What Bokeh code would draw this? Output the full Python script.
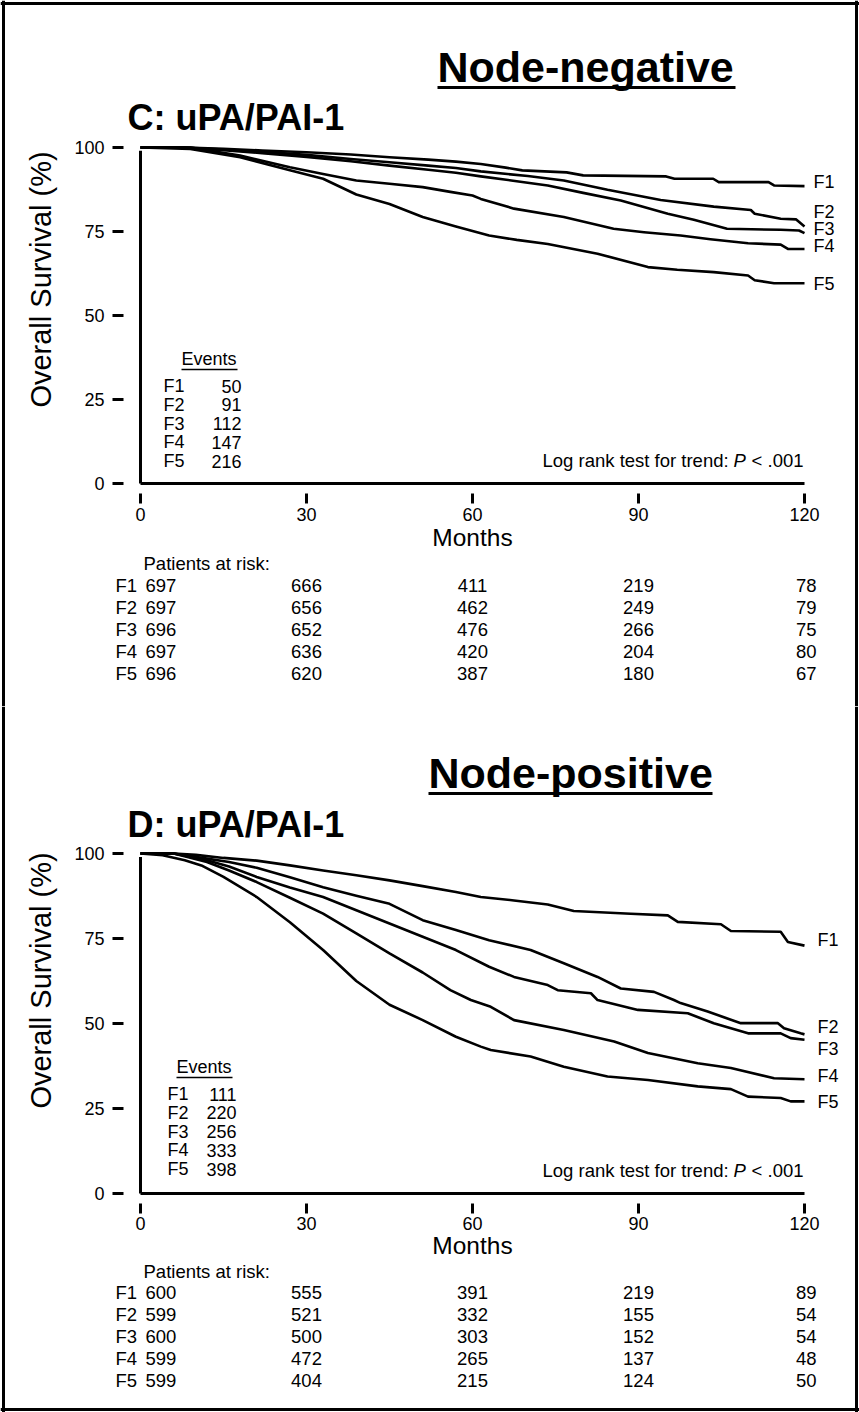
import math
from bokeh.plotting import figure
from bokeh.models import Range1d
from bokeh.layouts import column
from bokeh.embed import file_html
from bokeh.resources import INLINE
from bokeh.core.properties import value

FONT = "Liberation Sans"

# ---------------- data ----------------
month_ticks = [0, 30, 60, 90, 120]
surv_ticks = [0, 25, 50, 75, 100]
groups = ["F1", "F2", "F3", "F4", "F5"]

# Panel C: node-negative
C_F1_t = [0, 8, 15, 22, 30, 38, 45, 52, 57, 61.5, 66, 69, 77, 80, 95, 96.5, 103.5, 104.5, 113.5, 114.5, 120]
C_F1_s = [100, 100, 99.6, 99.1, 98.6, 97.9, 97.1, 96.4, 95.8, 95.1, 94, 93.2, 92.6, 91.7, 91.4, 90.7, 90.7, 89.7, 89.7, 88.7, 88.5]
C_F2_t = [0, 8, 15, 22, 30, 38, 45, 52, 57, 61.5, 70, 76.5, 84.4, 94, 103.6, 110.3, 111, 115.7, 118.5, 120]
C_F2_s = [100, 100, 99.4, 98.7, 97.8, 96.6, 95.6, 94.6, 93.9, 92.9, 91.5, 90.2, 87.4, 84.4, 82.4, 81.4, 80.3, 78.8, 78.6, 76.5]
C_F3_t = [0, 8, 15, 22, 30, 38, 45, 52, 57, 61.5, 67, 73.6, 80, 86.8, 95.3, 100, 106, 115.7, 119, 120]
C_F3_s = [100, 100, 99.2, 98.3, 97.2, 95.9, 94.6, 93.4, 92.5, 91.4, 90.2, 88.7, 86.5, 84.2, 80.3, 78.5, 75.8, 75.5, 75.3, 74.5]
C_F4_t = [0, 9, 18, 27, 33, 39, 45, 51, 56, 60, 61.5, 67.5, 76.5, 85.5, 91, 97.6, 103, 109.8, 115.7, 117, 120]
C_F4_s = [100, 100, 97.6, 94.1, 92.1, 90.2, 89.2, 88.2, 86.8, 85.7, 84.7, 81.8, 79.3, 75.8, 74.8, 73.8, 72.7, 71.5, 71.1, 69.8, 69.8]
C_F5_t = [0, 9, 18, 27, 33, 39, 45, 51, 57, 63, 68, 73.6, 82.6, 91.7, 97, 103.6, 109.8, 111, 114.5, 120]
C_F5_s = [100, 99.6, 97.1, 93.2, 90.7, 86, 83.2, 79.3, 76.5, 73.8, 72.5, 71.3, 68.4, 64.4, 63.6, 62.9, 61.9, 60.5, 59.6, 59.6]
C_events = [50, 91, 112, 147, 216]
C_risk_F1 = [697, 666, 411, 219, 78]
C_risk_F2 = [697, 656, 462, 249, 79]
C_risk_F3 = [696, 652, 476, 266, 75]
C_risk_F4 = [697, 636, 420, 204, 80]
C_risk_F5 = [696, 620, 387, 180, 67]

# Panel D: node-positive
D_F1_t = [0, 6, 10, 15, 21, 27, 33, 39, 45, 51, 57, 61.5, 67.5, 73.6, 78.3, 88.6, 95.3, 97.1, 104.9, 106.7, 115.7, 117, 120]
D_F1_s = [100, 100, 99.6, 98.7, 97.9, 96.5, 95, 93.6, 92.1, 90.4, 88.7, 87.2, 86.2, 85, 83.1, 82.3, 81.8, 79.9, 79.2, 77.2, 77, 74, 72.9]
D_F2_t = [0, 6, 12, 16, 21, 27, 33, 39, 45, 51, 57, 63, 70.5, 76.5, 82.6, 86.8, 92.8, 96.4, 97.6, 102.5, 108.5, 115.2, 116.3, 119.3, 120]
D_F2_s = [100, 100, 98.5, 97.5, 95.8, 93, 90.1, 87.6, 85.2, 80.4, 77.5, 74.5, 71.6, 67.7, 63.7, 60.3, 59.3, 56.9, 56, 53.5, 50.1, 50.1, 48.6, 47.1, 46.8]
D_F3_t = [0, 6, 12, 16, 21, 27, 33, 39, 45, 51, 57, 63, 67.5, 73.6, 75.4, 81.4, 82.6, 89.9, 98.9, 103.6, 109.8, 115.7, 117.5, 120]
D_F3_s = [100, 100, 98, 96.2, 93.1, 90, 87.2, 83.3, 79.4, 75.5, 71.6, 66.7, 63.7, 61.3, 59.8, 58.9, 56.9, 54, 53, 50.1, 47.1, 47.1, 45.7, 45.2]
D_F4_t = [0, 6, 12, 16, 21, 27, 33, 39, 45, 51, 56, 59.7, 63.3, 67.5, 76.5, 85.6, 91.7, 100.7, 106.7, 114.5, 120]
D_F4_s = [100, 100, 97.5, 95, 91.6, 87, 82.3, 76.5, 70.6, 65, 59.8, 56.9, 54.9, 51, 48.1, 44.7, 41.3, 38.3, 36.9, 33.9, 33.6]
D_F5_t = [0, 4, 8, 11, 15, 21, 27, 33, 39, 45, 51, 57, 61.5, 63.3, 70.5, 76.5, 84.4, 91.7, 100.7, 106.7, 109.8, 115.7, 117.5, 120]
D_F5_s = [100, 99.5, 98, 96.5, 93.1, 87.2, 79.8, 71.6, 62.5, 55.5, 51, 46.1, 43.2, 42.2, 40.3, 37.3, 34.4, 33.4, 31.5, 30.7, 28.5, 28.1, 27.1, 27.1]
D_events = [111, 220, 256, 333, 398]
D_risk_F1 = [600, 555, 391, 219, 89]
D_risk_F2 = [599, 521, 332, 155, 54]
D_risk_F3 = [600, 500, 303, 152, 54]
D_risk_F4 = [599, 472, 265, 137, 48]
D_risk_F5 = [599, 404, 215, 124, 50]

# ---------------- layout (pixels inside each 859x706 panel) ----------------
W, H = 859, 706
PX0, PX120 = 140, 804
CAP = 0.36  # half cap height (em) : baseline -> visual centre of capitals


def make_panel(cfg, curves, events, risks, top_part):
    KX = (PX120 - PX0) / (month_ticks[-1] - month_ticks[0])
    Y0, Y100 = cfg["y0"], cfg["y100"]
    KY = (Y0 - Y100) / (surv_ticks[-1] - surv_ticks[0])
    mx = lambda px: (px - PX0) / KX
    vy = lambda py: (Y0 - py) / KY
    vb = lambda py, size: vy(py - CAP * size)  # alphabetic baseline (px) -> data y of text centre

    p = figure(width=W, height=H, output_backend="svg", toolbar_location=None,
               x_range=Range1d(mx(0), mx(W)), y_range=Range1d(vy(H), vy(0)),
               x_axis_type=None, y_axis_type=None,
               min_border_left=0, min_border_right=0, min_border_top=0, min_border_bottom=0)
    p.grid.visible = False
    p.outline_line_color = None
    p.background_fill_color = "white"
    p.border_fill_color = "white"

    def txt(x, y, s, size, style="normal", align="left", angle=0.0):
        p.text(x=x, y=y, text=s, text_font=value(FONT), text_font_size=f"{size}px",
               text_font_style=style, text_align=align, text_baseline="middle",
               angle=angle, text_color="black")

    # ---- axes (ticks detached from the axis lines, as in the original) ----
    p.line([month_ticks[0], month_ticks[-1]], [surv_ticks[0], surv_ticks[0]], line_width=3, line_color="black")
    p.line([month_ticks[0], month_ticks[0]], [surv_ticks[0], surv_ticks[-1] - 1], line_width=3, line_color="black")
    t0, t1 = cfg["xtick"]
    p.segment(x0=month_ticks, x1=month_ticks, y0=[vy(Y0 + t0)] * 5, y1=[vy(Y0 + t1)] * 5,
              line_width=3, line_color="black")
    txt(month_ticks, [vy(Y0 + cfg["xlab_c"])] * 5, [str(m) for m in month_ticks], 18, align="center")
    p.segment(x0=[mx(112)] * 5, x1=[mx(123)] * 5, y0=surv_ticks, y1=surv_ticks,
              line_width=3, line_color="black")
    txt([mx(104)] * 5, surv_ticks, [str(s) for s in surv_ticks], 18, align="right")

    # ---- survival curves ----
    for t, s in curves:
        p.line(t, s, line_width=2.6, line_color="black", line_join="round")

    # ---- titles ----
    tb = cfg["title_base"]
    txt([mx(cfg["title_x"])], [vb(tb, 43)], [cfg["title"]], 43, "bold")
    p.segment(x0=[mx(cfg["title_x"])], x1=[mx(cfg["title_x2"])],
              y0=[vy(tb + 5)], y1=[vy(tb + 5)], line_width=3, line_color="black")
    txt([mx(127)], [vb(cfg["sub_base"], 36)], [cfg["sub"]], 36, "bold")

    # ---- y axis title ----
    txt([mx(40)], [vy(cfg["ylab_y"])], ["Overall Survival (%)"], 29, align="center", angle=math.pi / 2)

    # ---- right-hand group labels ----
    txt([mx(cfg["flab_x"])] * 5, cfg["flab_y"], groups, 18)

    # ---- events table ----
    eb = cfg["ev_base"]
    txt([mx(cfg["ev_x"])], [vb(eb, 18)], ["Events"], 18)
    p.segment(x0=[mx(cfg["ev_x"])], x1=[mx(cfg["ev_x"] + 56)], y0=[vy(eb + 4)], y1=[vy(eb + 4)],
              line_width=1.5, line_color="black")
    rows_y = [vb(eb + 27 + 18.8 * i, 18) for i in range(5)]
    txt([mx(cfg["evF_x"])] * 5, rows_y, groups, 18)
    txt([mx(cfg["evN_x"])] * 5, rows_y, [str(e) for e in events], 18, align="right")

    # ---- log rank ----
    lr = Y0 - 16
    txt([mx(542)], [vb(lr, 18.5)], ["Log rank test for trend:"], 18.5)
    txt([mx(733)], [vb(lr, 18.5)], ["P"], 18.5, style="italic")
    txt([mx(803)], [vb(lr, 18.5)], ["< .001"], 18.5, align="right")

    # ---- x axis title ----
    txt([month_ticks[2]], [vy(Y0 + cfg["months_c"])], ["Months"], 24.5, align="center")

    # ---- patients at risk ----
    txt([mx(143)], [vy(Y0 + cfg["pat_c"])], ["Patients at risk:"], 18.5)
    row_y = [vy(Y0 + cfg["row0_c"] + cfg["row_dy"] * i) for i in range(5)]
    txt([mx(115)] * 5, row_y, groups, 18.5)
    for j, m in enumerate(month_ticks):
        if j == 0:
            xs, align = mx(145), "left"
        elif j == len(month_ticks) - 1:
            xs, align = mx(816), "right"
        else:
            xs, align = m, "center"
        txt([xs] * 5, row_y, [str(r[j]) for r in risks], 18.5, align=align)

    # ---- outer frame of the page ----
    p.segment(x0=[mx(3), mx(856)], x1=[mx(3), mx(856)], y0=[vy(0), vy(0)], y1=[vy(H), vy(H)],
              line_width=3, line_color="black")
    edge = 3 if top_part else H - 3
    p.segment(x0=[mx(0)], x1=[mx(W)], y0=[vy(edge)], y1=[vy(edge)], line_width=3, line_color="black")
    return p


cfgC = dict(y0=483, y100=147, title="Node-negative", title_x=437, title_x2=735, title_base=82,
            sub="C: uPA/PAI-1", sub_base=130, ylab_y=279, flab_x=813,
            flab_y=[89.7, 80.7, 75.8, 70.8, 59.5], ev_base=365, ev_x=181, evF_x=163, evN_x=241,
            xtick=(10, 20), xlab_c=30.5, months_c=53.5, pat_c=79.5, row0_c=101.5, row_dy=22)
cfgD = dict(y0=487, y100=147, title="Node-positive", title_x=428, title_x2=712, title_base=82,
            sub="D: uPA/PAI-1", sub_base=131, ylab_y=274, flab_x=817,
            flab_y=[74.7, 49.0, 42.6, 34.7, 26.9], ev_base=367, ev_x=176, evF_x=167, evN_x=236,
            xtick=(10, 20), xlab_c=29.5, months_c=52, pat_c=77.5, row0_c=98.5, row_dy=22)

pC = make_panel(cfgC, [(C_F1_t, C_F1_s), (C_F2_t, C_F2_s), (C_F3_t, C_F3_s), (C_F4_t, C_F4_s), (C_F5_t, C_F5_s)],
                C_events, [C_risk_F1, C_risk_F2, C_risk_F3, C_risk_F4, C_risk_F5], True)
pD = make_panel(cfgD, [(D_F1_t, D_F1_s), (D_F2_t, D_F2_s), (D_F3_t, D_F3_s), (D_F4_t, D_F4_s), (D_F5_t, D_F5_s)],
                D_events, [D_risk_F1, D_risk_F2, D_risk_F3, D_risk_F4, D_risk_F5], False)

layout = column(pC, pD, spacing=0)
open("out.html", "w").write(file_html(layout, INLINE))
